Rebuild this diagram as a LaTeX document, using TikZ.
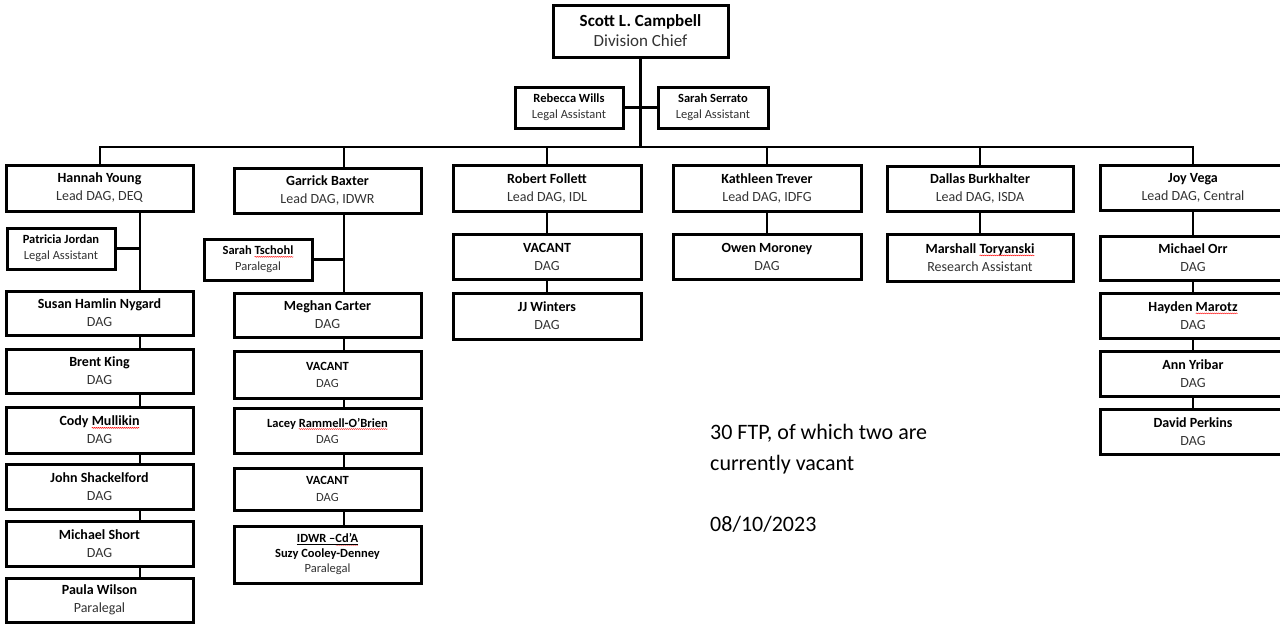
\documentclass[tikz,border=0pt]{standalone}
\usepackage{fontspec}
\setmainfont{Carlito}
\usetikzlibrary{decorations.pathmorphing}
\newcommand\fs[2]{\fontsize{#1}{#2}\selectfont}
\newcommand\rl[1]{{\color{black!80}#1}}
\newcommand\sq[1]{\tikz[baseline=(w.base)]{\node[inner sep=0pt,outer sep=0pt,draw=none,fill=none,minimum size=0pt] (w) {#1};\draw[overlay,red,line width=0.45pt,decorate,decoration={snake,amplitude=0.45pt,segment length=2pt}] ([yshift=-2pt]w.base west) -- ([yshift=-2pt]w.base east);}}
\begin{document}
\begin{tikzpicture}[x=1pt,y=-1pt,
  bx/.style={draw=black,line width=3pt,inner sep=0pt,align=center,minimum width=187pt,minimum height=46pt,font=\fs{14}{18}},
  sm/.style={bx,minimum width=108pt,minimum height=41pt,font=\fs{12.5}{16}},
  cn/.style={line width=2.2pt},
  note/.style={anchor=base west,inner sep=0pt,font=\fs{22}{27}}]
\fill[white] (0,0) rectangle (1280,624);
\useasboundingbox (0,0) rectangle (1280,624);

% top
\node[bx,minimum width=175pt,minimum height=52pt,font=\fs{17}{20}] (top) at (640.5,31) {\textbf{Scott L. Campbell}\\\rl{Division Chief}};
\node[sm] (rw) at (569,107.5) {\textbf{Rebecca Wills}\\\rl{Legal Assistant}};
\node[sm,minimum width=110pt] (ss) at (713,107.5) {\textbf{Sarah Serrato}\\\rl{Legal Assistant}};

% column 1
\node[bx] (hy) at (99.5,188) {\textbf{Hannah Young}\\\rl{Lead DAG, DEQ}};
\node[sm] (pj) at (61,248.5) {\textbf{Patricia Jordan}\\\rl{Legal Assistant}};
\node[bx,minimum height=44pt] (shn) at (99.5,313) {\textbf{Susan Hamlin Nygard}\\\rl{DAG}};
\node[bx,minimum height=44pt] (bk) at (99.5,371) {\textbf{Brent King}\\\rl{DAG}};
\node[bx] (cm) at (99.5,430) {\textbf{Cody \sq{Mullikin}}\\\rl{DAG}};
\node[bx,minimum height=45pt] (js) at (99.5,486.5) {\textbf{John Shackelford}\\\rl{DAG}};
\node[bx,minimum height=45pt] (ms) at (99.5,543.5) {\textbf{Michael Short}\\\rl{DAG}};
\node[bx,minimum height=44pt] (pw) at (99.5,600) {\textbf{Paula Wilson}\\\rl{Paralegal}};

% column 2
\node[bx,minimum height=45pt] (gb) at (327.5,190.5) {\textbf{Garrick Baxter}\\\rl{Lead DAG, IDWR}};
\node[sm] (st) at (258,259.5) {\textbf{Sarah \sq{Tschohl}}\\\rl{Paralegal}};
\node[bx,minimum height=44pt] (mc) at (327.5,315) {\textbf{Meghan Carter}\\\rl{DAG}};
\node[bx,minimum height=47pt,font=\fs{12.5}{17}] (v1) at (327.5,374.5) {\textbf{VACANT}\\\rl{DAG}};
\node[bx,minimum height=45pt,font=\fs{12.5}{16}] (lr) at (327.5,430.5) {\textbf{Lacey \sq{Rammell-O’Brien}}\\\rl{DAG}};
\node[bx,minimum height=42pt,font=\fs{12.5}{17}] (v2) at (327.5,489) {\textbf{VACANT}\\\rl{DAG}};
\node[bx,minimum height=57pt,font=\fs{12.5}{15}] (id) at (327.5,554.5) {\textbf{\underline{IDWR –\sq{Cd’A}}}\\\textbf{Suzy Cooley-Denney}\\\rl{Paralegal}};

% column 3
\node[bx,minimum width=188pt] (rf) at (547,188) {\textbf{Robert Follett}\\\rl{Lead DAG, IDL}};
\node[bx,minimum width=188pt,minimum height=45pt] (rv) at (547,256.5) {\textbf{VACANT}\\\rl{DAG}};
\node[bx,minimum width=188pt] (jj) at (547,316) {\textbf{JJ Winters}\\\rl{DAG}};

% column 4
\node[bx,minimum width=188pt] (kt) at (767,188) {\textbf{Kathleen Trever}\\\rl{Lead DAG, IDFG}};
\node[bx,minimum width=188pt,minimum height=45pt] (om) at (767,256.5) {\textbf{Owen Moroney}\\\rl{DAG}};

% column 5
\node[bx,minimum width=186pt,minimum height=45pt] (db) at (980,188.5) {\textbf{Dallas Burkhalter}\\\rl{Lead DAG, ISDA}};
\node[bx,minimum width=186pt,minimum height=47pt] (mt) at (980,257.5) {\textbf{Marshall \sq{Toryanski}}\\\rl{Research Assistant}};

% column 6
\node[bx,minimum width=186pt,minimum height=45pt] (jv) at (1193,187.5) {\textbf{Joy Vega}\\\rl{Lead DAG, Central}};
\node[bx,minimum width=186pt,minimum height=44pt] (mo) at (1193,258) {\textbf{Michael Orr}\\\rl{DAG}};
\node[bx,minimum width=186pt,minimum height=45pt] (hm) at (1193,315.5) {\textbf{Hayden \sq{Marotz}}\\\rl{DAG}};
\node[bx,minimum width=186pt,minimum height=45pt] (ay) at (1193,373.5) {\textbf{Ann Yribar}\\\rl{DAG}};
\node[bx,minimum width=186pt,minimum height=45pt] (dp) at (1193,431.5) {\textbf{David Perkins}\\\rl{DAG}};

% note
\node[note] (n1) at (710,439) {30 FTP, of which two are};
\node[note] (n2) at (710,470) {currently vacant};
\node[note] (n3) at (710,531) {08/10/2023};

% connectors
\coordinate (busL) at (100,147);
\coordinate (busR) at (1193,147);
\coordinate (s1) at (140,147);
\coordinate (s2) at (344,147);
\draw[cn] (top.south) -- (top.south |- busL);
\draw[cn] (rw.east) -- (ss.west);
\draw[cn,line cap=rect] (busL) -- (busR);
\draw[cn] (busL) -- (busL |- hy.north);
\draw[cn] (s2) -- (s2 |- gb.north);
\draw[cn] (rf.north |- busL) -- (rf.north);
\draw[cn] (kt.north |- busL) -- (kt.north);
\draw[cn] (db.north |- busL) -- (db.north);
\draw[cn] (busR) -- (jv.north);

% column 1 spine
\draw[cn] (s1 |- hy.south) -- (s1 |- shn.north);
\draw[cn] (pj.east) -- (pj.east -| s1);
\draw[cn] (s1 |- shn.south) -- (s1 |- bk.north);
\draw[cn] (s1 |- bk.south) -- (s1 |- cm.north);
\draw[cn] (s1 |- cm.south) -- (s1 |- js.north);
\draw[cn] (s1 |- js.south) -- (s1 |- ms.north);
\draw[cn] (s1 |- ms.south) -- (s1 |- pw.north);

% column 2 spine
\draw[cn] (s2 |- gb.south) -- (s2 |- mc.north);
\draw[cn] (st.east) -- (st.east -| s2);
\draw[cn] (s2 |- mc.south) -- (s2 |- v1.north);
\draw[cn] (s2 |- v1.south) -- (s2 |- lr.north);
\draw[cn] (s2 |- lr.south) -- (s2 |- v2.north);
\draw[line width=1.2pt] (s2 |- v2.south) -- (s2 |- id.north);

% column 3-6
\draw[cn] (rf.south) -- (rv.north);
\draw[cn] (rv.south) -- (jj.north);
\draw[cn] (kt.south) -- (om.north);
\draw[cn] (db.south) -- (mt.north);
\draw[cn] (jv.south) -- (mo.north);
\draw[cn] (mo.south) -- (hm.north);
\draw[cn] (hm.south) -- (ay.north);
\draw[cn] (ay.south) -- (dp.north);
\end{tikzpicture}
\end{document}
